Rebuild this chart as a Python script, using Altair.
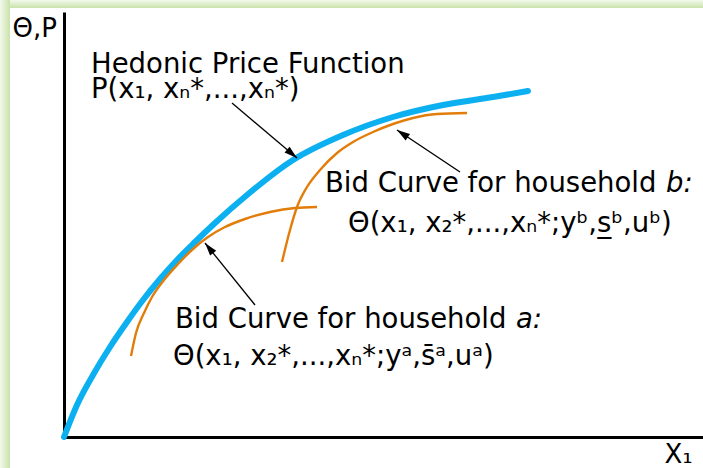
import math
import altair as alt
import pandas as pd

# Hedonic price function P(x1, ...) — the envelope of the bid curves
hedonic_x = [0, 13, 29, 46, 63, 79, 96, 113, 131, 151, 183, 229, 279, 329, 379, 429, 464]
hedonic_y = [0, 32, 62, 90, 115, 137, 158, 177, 195, 214, 242, 277, 302, 320, 332, 340, 346]

# Bid curve of household a
bid_a_x = [67, 72, 80, 88, 100, 114, 129, 144, 161, 181, 206, 231, 253]
bid_a_y = [81, 104, 124, 140, 157, 173, 188, 200, 210, 218, 225, 229, 230]

# Bid curve of household b
bid_b_x = [218, 226, 233, 243, 256, 273, 289, 309, 329, 349, 373, 403]
bid_b_y = [175, 207, 230, 250, 267, 284, 295, 305, 313, 319, 323, 324]

# Pointer arrows (tail -> head) from the labels to the curves
arrow_x_tail = [168, 396, 191]
arrow_y_tail = [334, 265, 132]
arrow_x_head = [233, 333, 141]
arrow_y_head = [279, 307, 194]

# Labels
label_text = [
    "Hedonic Price Function",
    "P(x\u2081, x\u2099*,...,x\u2099*)",
    "Bid Curve for household ",
    "\u0398(x\u2081, x\u2082*,...,x\u2099*;y\u1d47,s\u0332\u1d47,u\u1d47)",
    "Bid Curve for household ",
    "\u0398(x\u2081, x\u2082*,...,x\u2099*;y\u1d43,s\u0304\u1d43,u\u1d43)",
]
label_x = [27, 27, 261, 284, 111, 109]
label_y = [364, 339, 245, 205, 109, 72]

italic_text = ["b:", "a:"]
italic_x = [602, 452]
italic_y = [245, 109]

X_MAX, Y_MAX = 639, 425
FONT = "DejaVu Sans"
FONT_SIZE = 27.5
BLUE = "#0cb0f0"
ORANGE = "#e27d0a"

xs = alt.Scale(domain=[0, X_MAX], nice=False, zero=False)
ys = alt.Scale(domain=[0, Y_MAX], nice=False, zero=False)

curves = pd.concat([
    pd.DataFrame({"x": hedonic_x, "y": hedonic_y, "curve": "hedonic"}),
    pd.DataFrame({"x": bid_a_x, "y": bid_a_y, "curve": "a"}),
    pd.DataFrame({"x": bid_b_x, "y": bid_b_y, "curve": "b"}),
], ignore_index=True)

x_enc = alt.X("x:Q", scale=xs, axis=alt.Axis(
    title="X\u2081", domain=True, domainColor="black", domainWidth=3,
    ticks=False, labels=False, grid=False,
    titleFont=FONT, titleFontSize=26, titleFontWeight="normal", titleColor="black",
    titleX=600, titleY=25, titleAlign="left", titleBaseline="alphabetic"))
y_enc = alt.Y("y:Q", scale=ys, axis=alt.Axis(
    title="\u0398,P", domain=True, domainColor="black", domainWidth=3,
    ticks=False, labels=False, grid=False,
    titleFont=FONT, titleFontSize=26, titleFontWeight="normal", titleColor="black",
    titleAngle=0, titleX=-52, titleY=24, titleAlign="left", titleBaseline="alphabetic"))

hedonic = alt.Chart(curves[curves.curve == "hedonic"]).mark_line(
    color=BLUE, strokeWidth=6, strokeCap="round", interpolate="monotone"
).encode(x=x_enc, y=y_enc, order="x:Q")

bids = alt.Chart(curves[curves.curve != "hedonic"]).mark_line(
    color=ORANGE, strokeWidth=2.4, strokeCap="butt", interpolate="monotone"
).encode(
    x=alt.X("x:Q", scale=xs), y=alt.Y("y:Q", scale=ys),
    detail="curve:N", order="x:Q")

arrows = pd.DataFrame({
    "xt": arrow_x_tail, "yt": arrow_y_tail,
    "xh": arrow_x_head, "yh": arrow_y_head,
})
# heading of each arrow, clockwise from "up" (x and y use the same pixel unit)
arrows["angle"] = [
    (math.degrees(math.atan2(xh - xt, yh - yt)) + 360) % 360
    for xt, yt, xh, yh in zip(arrow_x_tail, arrow_y_tail, arrow_x_head, arrow_y_head)
]

arrow_lines = alt.Chart(arrows).mark_rule(color="black", strokeWidth=1.3).encode(
    x=alt.X("xt:Q", scale=xs), y=alt.Y("yt:Q", scale=ys),
    x2="xh:Q", y2="yh:Q")

arrow_heads = alt.Chart(arrows).mark_point(
    shape="M0,0L-0.6,2L0.6,2Z", filled=True, color="black", opacity=1, size=169
).encode(
    x=alt.X("xh:Q", scale=xs), y=alt.Y("yh:Q", scale=ys),
    angle=alt.Angle("angle:Q", scale=None))

labels = alt.Chart(pd.DataFrame({"x": label_x, "y": label_y, "t": label_text})).mark_text(
    font=FONT, fontSize=FONT_SIZE, align="left", baseline="alphabetic", color="black"
).encode(x=alt.X("x:Q", scale=xs), y=alt.Y("y:Q", scale=ys), text="t:N")

italics = alt.Chart(pd.DataFrame({"x": italic_x, "y": italic_y, "t": italic_text})).mark_text(
    font=FONT, fontSize=FONT_SIZE, fontStyle="italic", align="left", baseline="alphabetic", color="black"
).encode(x=alt.X("x:Q", scale=xs), y=alt.Y("y:Q", scale=ys), text="t:N")

# soft green glow along the left and top edges of the frame
one = pd.DataFrame({"k": [0]})
glow_left = alt.Chart(one).mark_rect(
    fill=alt.Gradient(gradient="linear",
                      stops=[alt.GradientStop(offset=0, color="#f3f9ec"),
                             alt.GradientStop(offset=1, color="#c9e2aa")],
                      x1=0, x2=1, y1=0, y2=0)
).encode(x=alt.value(-64), x2=alt.value(-54), y=alt.value(-12), y2=alt.value(456))
glow_top = alt.Chart(one).mark_rect(
    fill=alt.Gradient(gradient="linear",
                      stops=[alt.GradientStop(offset=0, color="#f3f9ec"),
                             alt.GradientStop(offset=1, color="#c9e2aa")],
                      x1=0, x2=0, y1=0, y2=1)
).encode(x=alt.value(-54), x2=alt.value(X_MAX), y=alt.value(-12), y2=alt.value(-4))

chart = alt.layer(
    glow_left, glow_top, hedonic, bids, arrow_lines, arrow_heads, labels, italics
).properties(
    width=X_MAX, height=Y_MAX,
    autosize=alt.AutoSizeParams(type="none"),
    padding={"left": 64, "top": 12, "right": 0, "bottom": 31},
    background="white",
).configure_view(stroke=None)

chart.save("out.html", embed_options={"renderer": "svg", "actions": False})
